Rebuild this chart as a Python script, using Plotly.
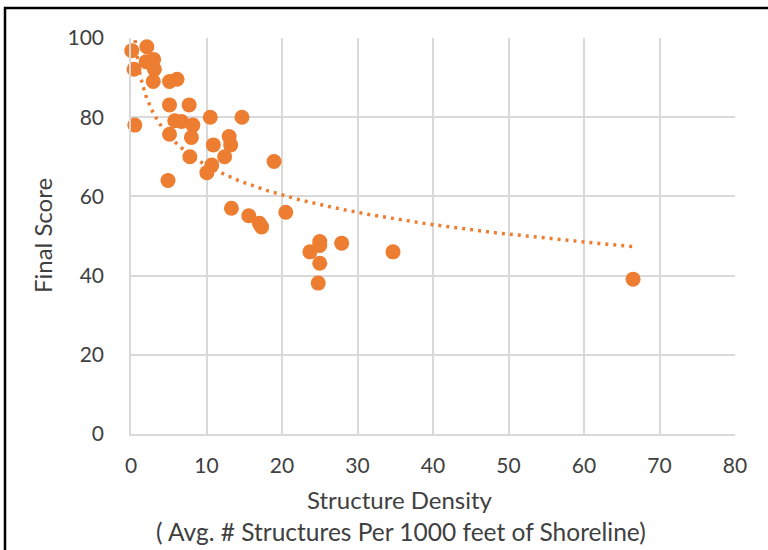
import numpy as np
import plotly.graph_objects as go

density = [0.1, 2.1, 3.0, 2.0, 0.4, 3.1, 2.95, 5.1, 6.1, 5.1, 7.7, 10.5, 14.7, 0.5,
           5.8, 6.7, 8.2, 5.1, 8.0, 13.0, 10.9, 13.2, 7.8, 12.4, 10.7, 10.05, 4.9,
           18.95, 13.3, 15.6, 17.3, 17.0, 20.5, 25.0, 23.7, 25.0, 25.0, 24.8, 27.9,
           34.7, 66.5]
score = [96.8, 97.8, 94.6, 94.0, 92.1, 92.1, 89.0, 89.0, 89.6, 83.1, 83.1, 80.0, 80.0, 78.0,
         79.1, 78.9, 78.0, 75.7, 74.9, 75.1, 73.0, 73.0, 70.0, 70.0, 67.9, 66.0, 64.0,
         68.8, 57.0, 55.1, 52.3, 53.2, 56.0, 48.6, 46.0, 47.6, 43.1, 38.1, 48.2,
         46.0, 39.1]

x_ticks = [0, 10, 20, 30, 40, 50, 60, 70, 80]
y_ticks = [0, 20, 40, 60, 80, 100]

x_title_1 = "Structure Density"
x_title_2 = "( Avg. # Structures Per 1000 feet of Shoreline)"
y_title = "Final Score"

ORANGE = "#ED7D31"
GRID = "#D9D9D9"
TEXT = "#404040"
FONT = "Lato, sans-serif"

# logarithmic trendline fitted to the data
dx = np.array(density)
b, a = np.polyfit(np.log(dx), np.array(score), 1)
tx = np.linspace(dx.min(), dx.max(), 400)
ty = a + b * np.log(tx)

fig = go.Figure()
fig.add_trace(go.Scatter(x=density, y=score, mode="markers",
                         marker=dict(color=ORANGE, size=15, line=dict(width=0)),
                         showlegend=False, cliponaxis=False))
fig.add_trace(go.Scatter(x=tx, y=ty, mode="lines",
                         line=dict(color=ORANGE, width=3.5, dash="3px,5px"),
                         showlegend=False))

L, R, T, B = 131, 33, 38, 116
W, H = 768, 550
pw, ph = W - L - R, H - T - B

def px_x(p):
    return (p - L) / pw

def px_y(p):
    return (H - B - p) / ph

fig.update_layout(
    width=W, height=H,
    margin=dict(l=L, r=R, t=T, b=B),
    paper_bgcolor="white", plot_bgcolor="white",
    font=dict(family=FONT, size=21, color=TEXT),
    xaxis=dict(range=[0, 80], tickvals=x_ticks, showgrid=True, gridcolor=GRID, gridwidth=1.5,
               zeroline=False, showline=True, linecolor=GRID, linewidth=1.5,
               ticks="", ticklabelstandoff=12, tickfont=dict(size=21, color=TEXT)),
    yaxis=dict(range=[0, 100], tickvals=y_ticks, showgrid=True, gridcolor=GRID, gridwidth=1.5,
               zeroline=False, showline=True, linecolor=GRID, linewidth=1.5,
               ticks="", ticklabelstandoff=21, tickfont=dict(size=21, color=TEXT)),
    annotations=[
        dict(text=x_title_1, xref="paper", yref="paper", x=px_x(400), y=px_y(499),
             xanchor="center", yanchor="middle", showarrow=False, font=dict(size=24, color=TEXT)),
        dict(text=x_title_2, xref="paper", yref="paper", x=px_x(401), y=px_y(531),
             xanchor="center", yanchor="middle", showarrow=False, font=dict(size=24.5, color=TEXT)),
        dict(text=y_title, xref="paper", yref="paper", x=px_x(42), y=0.5, textangle=-90,
             xanchor="center", yanchor="middle", showarrow=False, font=dict(size=24, color=TEXT)),
    ],
    shapes=[dict(type="rect", xref="paper", yref="paper",
                 x0=px_x(5), x1=px_x(775), y0=px_y(560), y1=px_y(8),
                 line=dict(color="black", width=2.5), fillcolor="rgba(0,0,0,0)", layer="above")],
)

fig.write_html("out.html", config={"displayModeBar": False},
               post_script="document.body.style.margin='0px';document.body.style.padding='0px';")
